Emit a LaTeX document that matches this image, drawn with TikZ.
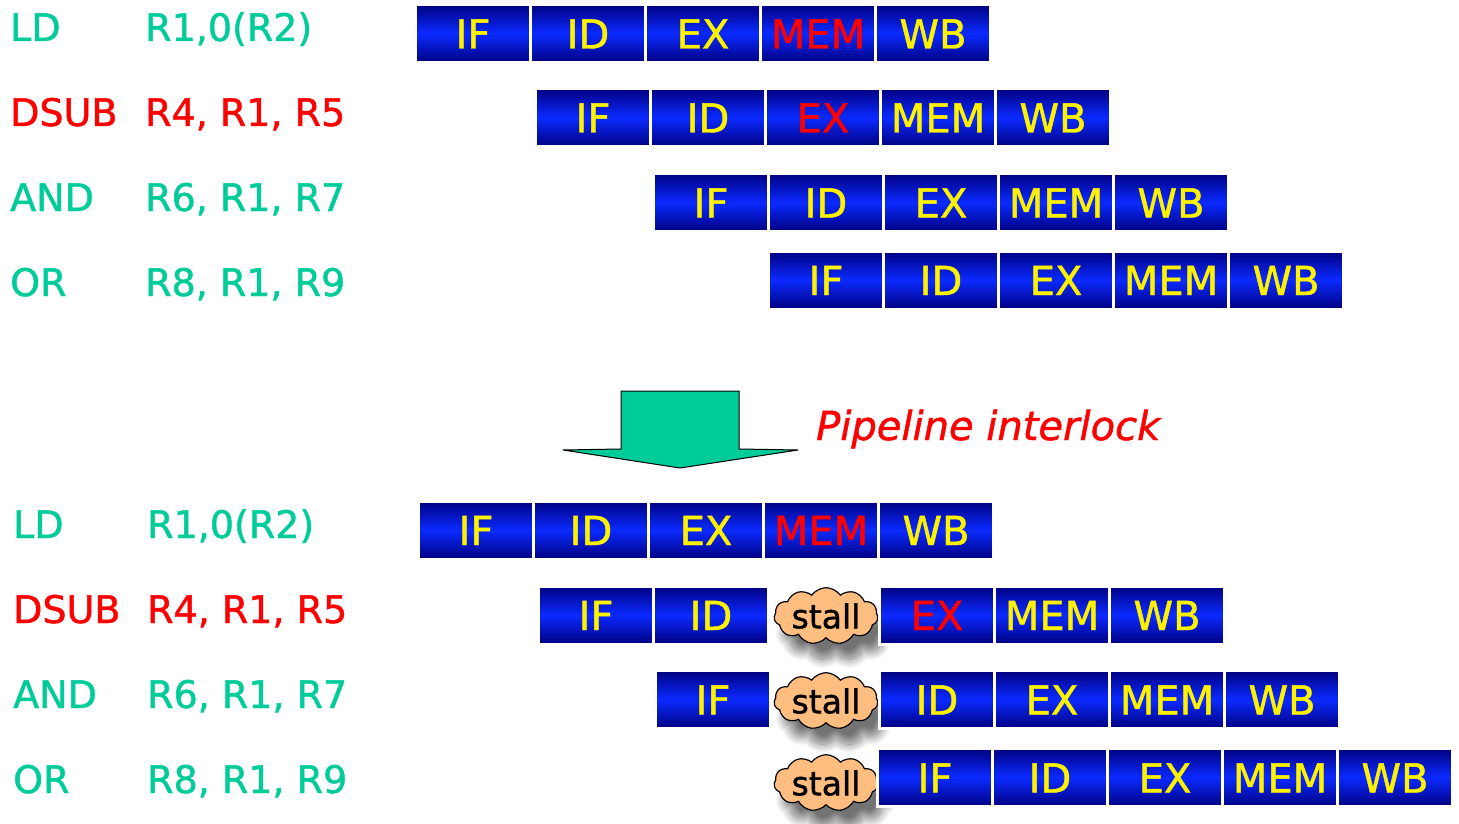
\documentclass[tikz,border=0pt]{standalone}
\usepackage{fontspec}
\setmainfont{DejaVu Sans}
\newfontfamily\thickfont{DejaVu Sans}[FakeBold=1.2]
\usetikzlibrary{shapes.symbols,shadows.blur}
\definecolor{instgreen}{RGB}{0,204,153}
\definecolor{navy}{RGB}{0,0,128}
\definecolor{brightblue}{RGB}{10,42,255}
\definecolor{peach}{RGB}{255,190,128}
\tikzset{
  stage/.style={rectangle, minimum width=115pt, minimum height=58pt, inner sep=0pt,
    draw=white, line width=3pt, top color=navy, bottom color=navy, middle color=brightblue,
    text=yellow, font=\thickfont\fontsize{40}{46}\selectfont, text height=30pt, text depth=0pt},
  hot/.style={text=red},
  instr/.style={anchor=base west, inner sep=0pt, font=\thickfont\fontsize{38}{44}\selectfont},
  stallcloud/.style={cloud, cloud puffs=11, cloud puff arc=110, aspect=2.2,
    minimum width=104pt, minimum height=52pt, inner sep=0pt, fill=peach, draw=black, line width=1.2pt,
    font=\thickfont\fontsize{33}{36}\selectfont, text=black,
    blur shadow={shadow xshift=10pt, shadow yshift=-16pt, shadow blur steps=16, shadow blur radius=9pt, shadow opacity=55}},
  bigarrow/.style={fill=instgreen, draw=black, line width=1pt, line join=miter}
}
\begin{document}
\begin{tikzpicture}[x=1pt,y=-1pt]
\useasboundingbox (0,0) rectangle (1459,824);
% instruction labels, top
\node[instr, text=instgreen] (t1op) at (10,41) {LD};
\node[instr, text=instgreen] (t1ar) at (145,41) {R1,0(R2)};
\node[instr, text=red] (t2op) at (10,126) {DSUB};
\node[instr, text=red] (t2ar) at (145,126) {R4, R1, R5};
\node[instr, text=instgreen] (t3op) at (10,211) {AND};
\node[instr, text=instgreen] (t3ar) at (145,211) {R6, R1, R7};
\node[instr, text=instgreen] (t4op) at (10,296) {OR};
\node[instr, text=instgreen] (t4ar) at (145,296) {R8, R1, R9};
% instruction labels, bottom
\node[instr, text=instgreen] (b1op) at (13,538) {LD};
\node[instr, text=instgreen] (b1ar) at (147,538) {R1,0(R2)};
\node[instr, text=red] (b2op) at (13,623) {DSUB};
\node[instr, text=red] (b2ar) at (147,623) {R4, R1, R5};
\node[instr, text=instgreen] (b3op) at (13,708) {AND};
\node[instr, text=instgreen] (b3ar) at (147,708) {R6, R1, R7};
\node[instr, text=instgreen] (b4op) at (13,793) {OR};
\node[instr, text=instgreen] (b4ar) at (147,793) {R8, R1, R9};
% top pipeline
\node[stage] (r1a) at (473,33.5) {IF};
\node[stage] (r1b) at (588,33.5) {ID};
\node[stage] (r1c) at (703,33.5) {EX};
\node[stage,hot] (r1d) at (818,33.5) {MEM};
\node[stage] (r1e) at (933,33.5) {WB};
\node[stage] (r2a) at (593,117.5) {IF};
\node[stage] (r2b) at (708,117.5) {ID};
\node[stage,hot] (r2c) at (823,117.5) {EX};
\node[stage] (r2d) at (938,117.5) {MEM};
\node[stage] (r2e) at (1053,117.5) {WB};
\node[stage] (r3a) at (711,202.5) {IF};
\node[stage] (r3b) at (826,202.5) {ID};
\node[stage] (r3c) at (941,202.5) {EX};
\node[stage] (r3d) at (1056,202.5) {MEM};
\node[stage] (r3e) at (1171,202.5) {WB};
\node[stage] (r4a) at (826,280) {IF};
\node[stage] (r4b) at (941,280) {ID};
\node[stage] (r4c) at (1056,280) {EX};
\node[stage] (r4d) at (1171,280) {MEM};
\node[stage] (r4e) at (1286,280) {WB};
% arrow and label
\draw[bigarrow] (621,391) -- (739,391) -- (739,449) -- (798,450) -- (680,468) -- (563,450) -- (621,449) -- cycle;
\node[anchor=base west, inner sep=0pt, text=red, font=\thickfont\fontsize{40}{44}\selectfont\itshape] (pil) at (816,440) {Pipeline interlock};
% stall clouds
\node[stallcloud] (s6) at (826,616) {stall};
\node[stallcloud] (s7) at (826,701) {stall};
\node[stallcloud] (s8) at (826,783) {stall};
% bottom pipeline
\node[stage] (r5a) at (476,530) {IF};
\node[stage] (r5b) at (591,530) {ID};
\node[stage] (r5c) at (706,530) {EX};
\node[stage,hot] (r5d) at (821,530) {MEM};
\node[stage] (r5e) at (936,530) {WB};
\node[stage] (r6a) at (596,615) {IF};
\node[stage] (r6b) at (711,615) {ID};
\node[stage,hot] (r6c) at (937,615) {EX};
\node[stage] (r6d) at (1052,615) {MEM};
\node[stage] (r6e) at (1167,615) {WB};
\node[stage] (r7a) at (713,699.5) {IF};
\node[stage] (r7b) at (937,699.5) {ID};
\node[stage] (r7c) at (1052,699.5) {EX};
\node[stage] (r7d) at (1167,699.5) {MEM};
\node[stage] (r7e) at (1282,699.5) {WB};
\node[stage] (r8a) at (935,777.5) {IF};
\node[stage] (r8b) at (1050,777.5) {ID};
\node[stage] (r8c) at (1165,777.5) {EX};
\node[stage] (r8d) at (1280,777.5) {MEM};
\node[stage] (r8e) at (1395,777.5) {WB};
\end{tikzpicture}
\end{document}
